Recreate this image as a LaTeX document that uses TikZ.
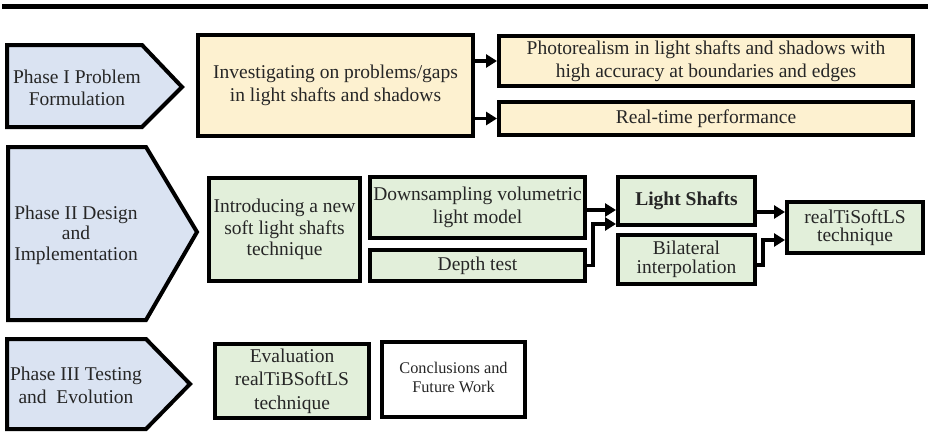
\documentclass[tikz,border=0pt]{standalone}
\usepackage{fontspec}
\setmainfont{Liberation Serif}
\usetikzlibrary{arrows.meta}
\definecolor{pblue}{HTML}{DAE3F2}
\definecolor{pyellow}{HTML}{FDF1D0}
\definecolor{pgreen}{HTML}{E2EFDA}
\definecolor{txt}{HTML}{262626}
\tikzset{
  bx/.style={draw=black, line width=4pt, inner sep=0pt, align=center, text=txt,
    font=\fontsize{19.5}{22.5}\selectfont},
  ybox/.style={bx, fill=pyellow},
  gbox/.style={bx, fill=pgreen},
  wbox/.style={bx, fill=white, font=\fontsize{16.3}{19}\selectfont},
  phase/.style={draw=black, line width=4pt, fill=pblue, line join=miter},
  ptext/.style={align=center, text=txt, inner sep=0pt, font=\fontsize{19.5}{22}\selectfont},
  arr/.style={line width=3.8pt, -{Triangle[length=11pt,width=13pt]}}
}
\begin{document}
\begin{tikzpicture}[x=1pt,y=-1pt]
\useasboundingbox (0,0) rectangle (928,431);
\fill[black] (2,4) rectangle (928,8.5);
% phases
\draw[phase] (7,45) -- (142,45) -- (182,87) -- (142,127) -- (7,127) -- cycle;
\node[ptext] (p1) at (77,88) {Phase I Problem\\Formulation};
\draw[phase] (8,147) -- (146,147) -- (197,232) -- (146,320) -- (8,320) -- cycle;
\node[ptext, font=\fontsize{19.5}{20.5}\selectfont] (p2) at (76,235) {Phase II Design\\and\\Implementation};
\draw[phase] (7,339) -- (146,339) -- (190,384) -- (146,429) -- (7,429) -- cycle;
\node[ptext, font=\fontsize{19.5}{23}\selectfont] (p3) at (76,385) {Phase III Testing\\and\ \ Evolution};
% phase I boxes
\node[ybox, minimum width=275pt, minimum height=101pt] (inv) at (335.5,85.5) {Investigating on problems/gaps\\in light shafts and shadows};
\node[ybox, minimum width=414pt, minimum height=50pt] (photo) at (706,61) {Photorealism in light shafts and shadows with\\high accuracy at boundaries and edges};
\node[ybox, minimum width=414pt, minimum height=33pt] (real) at (706,118.5) {Real-time performance};
\draw[arr] (inv.east |- photo.west) -- (photo.west);
\draw[arr] (inv.east |- real.west) -- (real.west);
% phase II boxes
\node[gbox, minimum width=151pt, minimum height=103pt, font=\fontsize{19.5}{21.5}\selectfont] (intro) at (284.5,229.5) {Introducing a new\\soft light shafts\\technique};
\node[gbox, minimum width=215pt, minimum height=61pt] (down) at (477.5,207.5) {Downsampling volumetric\\light model};
\node[gbox, minimum width=215pt, minimum height=31pt] (depth) at (477.5,265.5) {Depth test};
\node[gbox, minimum width=137pt, minimum height=48pt, font=\fontsize{19.5}{22}\selectfont\bfseries] (ls) at (686.5,201) {\raisebox{3pt}{Light Shafts}};
\node[gbox, minimum width=137pt, minimum height=49pt, font=\fontsize{19.5}{19.5}\selectfont] (bil) at (686.5,259.5) {Bilateral\\interpolation};
\node[gbox, minimum width=136pt, minimum height=51pt, font=\fontsize{19.5}{18}\selectfont] (rts) at (855,227.5) {realTiSoftLS\\technique};
\draw[arr] (down.east |- 0,210) -- (ls.west |- 0,210);
\draw[arr] (depth.east) -- ++(6,0) |- (ls.west |- 0,224);
\draw[arr] (ls.east |- 0,212) -- (rts.west |- 0,212);
\draw[arr] (bil.east |- 0,265) -- ++(6,0) |- (rts.west |- 0,240);
% phase III boxes
\node[gbox, minimum width=154pt, minimum height=74pt, font=\fontsize{19.5}{23.5}\selectfont] (eval) at (292,381) {Evaluation\\realTiBSoftLS\\technique};
\node[wbox, minimum width=143pt, minimum height=75pt] (conc) at (453.5,379.5) {\raisebox{3pt}{\begin{tabular}{@{}c@{}}Conclusions and\\Future Work\end{tabular}}};
\end{tikzpicture}
\end{document}
